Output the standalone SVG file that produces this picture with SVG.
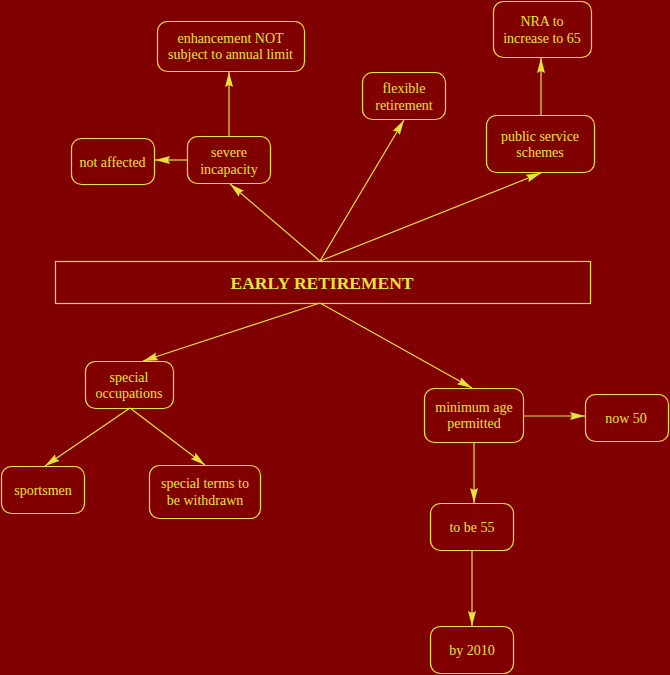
<svg xmlns="http://www.w3.org/2000/svg" width="670" height="675" viewBox="0 0 670 675">
<style>
.n rect{fill:none;stroke:#e8e23c;stroke-width:1.2}
.n text{fill:#e8e23c;font-family:"Liberation Serif","Times New Roman",serif;font-size:14px;text-anchor:middle}
.n text.b{font-size:17.5px;font-weight:bold}
#edges line{stroke:#e8e23c;stroke-width:1.2;marker-end:url(#ah)}
</style>
<defs>
<marker id="ah" markerUnits="userSpaceOnUse" markerWidth="16" markerHeight="10" viewBox="0 0 16 10" refX="15" refY="5" orient="auto">
<path d="M0,1 L15,5 L0,9 L2,5 z" fill="#e8e23c"/>
</marker>
</defs>
<rect width="670" height="675" fill="#800000"/>
<g id="edges">
<line x1="320" y1="261" x2="230" y2="184"/>
<line x1="320" y1="261" x2="404" y2="120"/>
<line x1="320" y1="261" x2="541" y2="173"/>
<line x1="229" y1="136" x2="229" y2="72"/>
<line x1="187" y1="160" x2="155" y2="160"/>
<line x1="541" y1="115" x2="541" y2="58"/>
<line x1="320" y1="303" x2="143" y2="361"/>
<line x1="320" y1="303" x2="472" y2="388"/>
<line x1="130" y1="408" x2="45" y2="466"/>
<line x1="130" y1="408" x2="205" y2="465"/>
<line x1="523" y1="416" x2="585" y2="416"/>
<line x1="474" y1="442" x2="474" y2="503"/>
<line x1="472" y1="550" x2="472" y2="626"/>
</g>
<g id="early" class="n"><rect x="55.5" y="261.5" width="535" height="42"/><text class="b" x="322" y="289">EARLY RETIREMENT</text></g>
<g id="enhancement" class="n"><rect x="157.5" y="21.5" width="147" height="50" rx="10"/><text x="230.5" y="43">enhancement NOT</text><text x="230.5" y="59">subject to annual limit</text></g>
<g id="severe" class="n"><rect x="187.5" y="136.5" width="83" height="47" rx="10"/><text x="229" y="157">severe</text><text x="229" y="174">incapacity</text></g>
<g id="notaffected" class="n"><rect x="71.5" y="138.5" width="83" height="46" rx="10"/><text x="112.5" y="167">not affected</text></g>
<g id="flexible" class="n"><rect x="362.5" y="72.5" width="83" height="47" rx="10"/><text x="404" y="93">flexible</text><text x="404" y="110">retirement</text></g>
<g id="nra" class="n"><rect x="493.5" y="1.5" width="98" height="56" rx="10"/><text x="542" y="26">NRA to</text><text x="542" y="43">increase to 65</text></g>
<g id="public" class="n"><rect x="486.5" y="115.5" width="108" height="57" rx="10"/><text x="540" y="141">public service</text><text x="540" y="157">schemes</text></g>
<g id="special" class="n"><rect x="85.5" y="361.5" width="88" height="47" rx="10"/><text x="129" y="382">special</text><text x="129" y="398">occupations</text></g>
<g id="minimum" class="n"><rect x="424.5" y="388.5" width="99" height="54" rx="10"/><text x="474" y="412">minimum age</text><text x="474" y="428">permitted</text></g>
<g id="now50" class="n"><rect x="585.5" y="394.5" width="83" height="47" rx="10"/><text x="626" y="423">now 50</text></g>
<g id="sportsmen" class="n"><rect x="1.5" y="466.5" width="83" height="47" rx="10"/><text x="43" y="495">sportsmen</text></g>
<g id="terms" class="n"><rect x="149.5" y="465.5" width="111" height="53" rx="10"/><text x="205" y="488">special terms to</text><text x="205" y="505">be withdrawn</text></g>
<g id="tobe55" class="n"><rect x="430.5" y="503.5" width="83" height="47" rx="10"/><text x="472" y="532">to be 55</text></g>
<g id="by2010" class="n"><rect x="430.5" y="626.5" width="83" height="47" rx="10"/><text x="472" y="655">by 2010</text></g>
</svg>
